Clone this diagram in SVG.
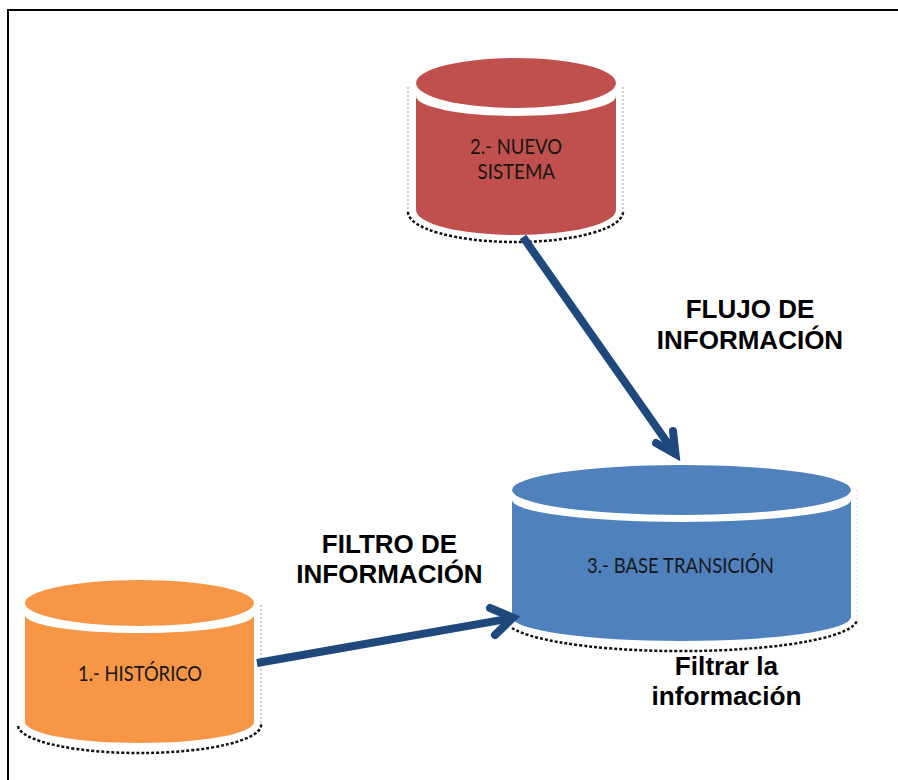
<svg xmlns="http://www.w3.org/2000/svg" width="898" height="780" viewBox="0 0 898 780">
<style>
.lbl{font-family:"Liberation Sans",Arial,sans-serif;font-weight:700;font-size:26px;fill:#000;text-anchor:middle}
.small{font-size:26.200px}
.cap{font-family:Lato,"Liberation Sans",sans-serif;font-size:22px;fill:#161616}
.dg{fill:none;stroke:#999;stroke-width:1;stroke-dasharray:2 2}
.db{fill:none;stroke:#111;stroke-width:2.500;stroke-dasharray:3 2}
.shaft{fill:none;stroke:#1f497d;stroke-width:8}
.head{fill:none;stroke:#1f497d;stroke-width:8;stroke-linecap:round;stroke-linejoin:miter;stroke-miterlimit:10}
</style>
<rect width="898" height="780" fill="#fff"/>
<path d="M8 780V10H898" fill="none" stroke="#000" stroke-width="2"/>
<g id="node-historico">
<path class="dg" d="M261 605V724"/>
<path class="db" d="M18 726A121.500 28 0 0 0 261 724"/>
<path d="M25 615A114.500 18 0 0 0 254 615V722A114.500 21 0 0 1 25 722Z" fill="#f79646"/>
<ellipse cx="139.500" cy="603" rx="114.500" ry="23" fill="#f79646"/>
<text class="cap" x="78" y="681" textLength="124" lengthAdjust="spacingAndGlyphs">1.- HISTÓRICO</text>
</g>
<g id="node-nuevo-sistema">
<path class="dg" d="M408 87V212M623 87V212"/>
<path class="db" d="M408 212A107.500 30 0 0 0 623 212"/>
<path d="M416 96A100 20 0 0 0 616 96V210A100 25 0 0 1 416 210Z" fill="#c0504d"/>
<ellipse cx="516" cy="83" rx="100" ry="25" fill="#c0504d"/>
<text class="cap" x="470" y="154" textLength="92" lengthAdjust="spacingAndGlyphs">2.- NUEVO</text>
<text class="cap" x="477.500" y="179" textLength="77.500" lengthAdjust="spacingAndGlyphs">SISTEMA</text>
</g>
<g id="node-base-transicion">
<path class="dg" d="M857 490V620" style="stroke:#ddd"/>
<path class="db" d="M512 628A176 32 0 0 0 857 620"/>
<path d="M512 500A169.500 22 0 0 0 851 500V617A169.500 24 0 0 1 512 617Z" fill="#4f81bd"/>
<ellipse cx="681.500" cy="490" rx="169.500" ry="25" fill="#4f81bd"/>
<text class="cap" x="587" y="573" textLength="187" lengthAdjust="spacingAndGlyphs">3.- BASE TRANSICIÓN</text>
</g>
<g id="connectors">
<path class="shaft" d="M523 237L676 455"/>
<path class="head" d="M673 431L675.500 454L656 443"/>
<path class="shaft" d="M257 663L513 618"/>
<path class="head" d="M490 608L513 617.700L495 635"/>
</g>
<g id="labels">
<text class="lbl" x="750" y="318">FLUJO DE</text>
<text class="lbl" x="750" y="349">INFORMACIÓN</text>
<text class="lbl" x="389.500" y="553">FILTRO DE</text>
<text class="lbl" x="389.500" y="583">INFORMACIÓN</text>
<text class="lbl small" x="726.500" y="675">Filtrar la</text>
<text class="lbl small" x="726.500" y="705">información</text>
</g>
</svg>
